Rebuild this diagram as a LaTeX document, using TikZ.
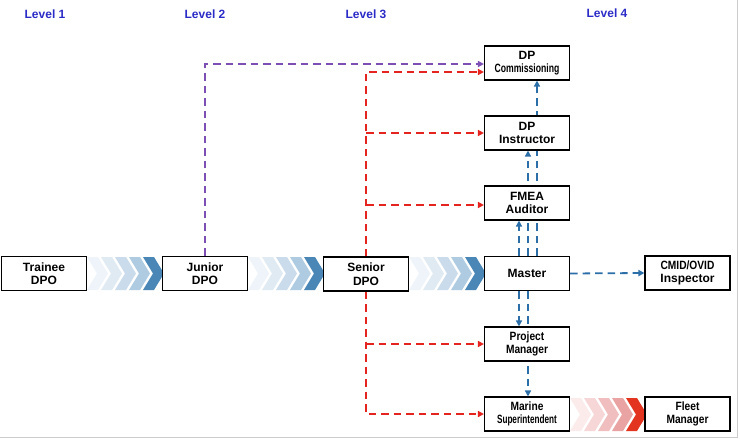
\documentclass[tikz,border=0pt]{standalone}
\usepackage{fontspec}
\setmainfont{Liberation Sans}
\usetikzlibrary{arrows.meta,backgrounds}
\definecolor{lvlblue}{HTML}{2B2BC8}
\definecolor{purp}{HTML}{7D4FB5}
\definecolor{redd}{HTML}{E52420}
\definecolor{blued}{HTML}{2C6EA8}
\definecolor{cb1}{HTML}{EEF4F9}
\definecolor{cb2}{HTML}{DFEAF3}
\definecolor{cb3}{HTML}{CADCEC}
\definecolor{cb4}{HTML}{AECBE1}
\definecolor{cb5}{HTML}{4A87B7}
\definecolor{cr1}{HTML}{FBEBEB}
\definecolor{cr2}{HTML}{F6D6D6}
\definecolor{cr3}{HTML}{F0BEBE}
\definecolor{cr4}{HTML}{E9A3A3}
\definecolor{cr5}{HTML}{E3341F}
\newcommand\chevrow[7]{%
  \foreach \c [count=\i from 0] in {#3,#4,#5,#6,#7} {
    \fill[\c] ({#1+\i*14},#2) -- ++(11,0) -- ++(10,16.5) -- ++(-10,16.5) -- ++(-11,0) -- ++(10,-16.5) -- cycle;
  }}
\begin{document}
\begin{tikzpicture}[x=1pt,y=-1pt,
  box/.style={draw=black, line width=1.1pt, fill=white, minimum width=85pt, minimum height=34pt,
    inner sep=0.5pt, align=center, font=\bfseries\fontsize{12}{13.5}\selectfont},
  lvl/.style={text=lvlblue, font=\bfseries\fontsize{12}{14}\selectfont},
  dsh/.style={line width=1.8pt, dash pattern=on 7.5pt off 5pt, -{Triangle[length=6pt,width=6pt]}},
  pline/.style={dsh, draw=purp},
  rline/.style={dsh, draw=redd},
  bline/.style={dsh, draw=blued},
  ]
\useasboundingbox (0,0) rectangle (740,439);
\draw[gray!40, line width=1pt] (737,0) -- (737,437) -- (0,437);

% level labels
\node[lvl] (l1) at (45,14) {Level 1};
\node[lvl] (l2) at (205,14) {Level 2};
\node[lvl] (l3) at (366,14) {Level 3};
\node[lvl] (l4) at (607,13) {Level 4};

% chevrons
\chevrow{87}{257}{cb1}{cb2}{cb3}{cb4}{cb5}
\chevrow{248}{257}{cb1}{cb2}{cb3}{cb4}{cb5}
\chevrow{409}{257}{cb1}{cb2}{cb3}{cb4}{cb5}
\chevrow{570}{398}{cr1}{cr2}{cr3}{cr4}{cr5}

% boxes
\node[box] (tra) at (44,273.5) {Trainee\\DPO};
\node[box] (jun) at (205,273.5) {Junior\\DPO};
\node[box] (sen) at (366,274) {Senior\\DPO};
\node[box] (mas) at (527,273.5) {Master};
\node[box] (cmi) at (687.5,273) {\scalebox{0.85}[1]{CMID/OVID}\\Inspector};
\node[box] (com) at (527,63) {DP\\\scalebox{0.72}[1]{Commissioning}};
\node[box] (ins) at (527,133) {DP\\Instructor};
\node[box] (fme) at (527,203) {FMEA\\Auditor};
\node[box] (pm) at (527,344) {\scalebox{0.85}[1]{Project}\\\scalebox{0.85}[1]{Manager}};
\node[box] (mar) at (527,414) {\scalebox{0.85}[1]{Marine}\\\scalebox{0.68}[1]{Superintendent}};
\node[box] (fle) at (687.5,414) {\scalebox{0.85}[1]{Fleet}\\\scalebox{0.85}[1]{Manager}};

% connectors (behind boxes)
\begin{pgfonlayer}{background}
  % purple: Junior -> DP Commissioning
  \draw[pline] (jun.north) |- ([yshift=-1pt]com.west);
  % red trunk from Senior DPO
  \draw[rline] (sen.north) |- ([yshift=-9pt]com.west);
  \draw[rline] (sen.north |- ins.west) -- (ins.west);
  \draw[rline] ([yshift=-2pt]sen.north |- fme.west) -- ([yshift=-2pt]fme.west);
  \draw[rline] (sen.south |- pm.west) -- (pm.west);
  \draw[rline] (sen.south) |- (mar.west);
  % blue from Master
  \draw[bline] (mas.east) -- (cmi.west);
  \draw[bline] ([xshift=-8pt]mas.north) -- ([xshift=-8pt]fme.south);
  \draw[bline] ([xshift=1pt]mas.north) -- ([xshift=1pt]ins.south);
  \draw[bline] ([xshift=10pt]mas.north) -- ([xshift=10pt]com.south);
  \draw[bline] ([xshift=-8pt]mas.south) -- ([xshift=-8pt]pm.north);
  \draw[bline] ([xshift=1pt]mas.south) -- ([xshift=1pt]mar.north);
\end{pgfonlayer}
\end{tikzpicture}
\end{document}
